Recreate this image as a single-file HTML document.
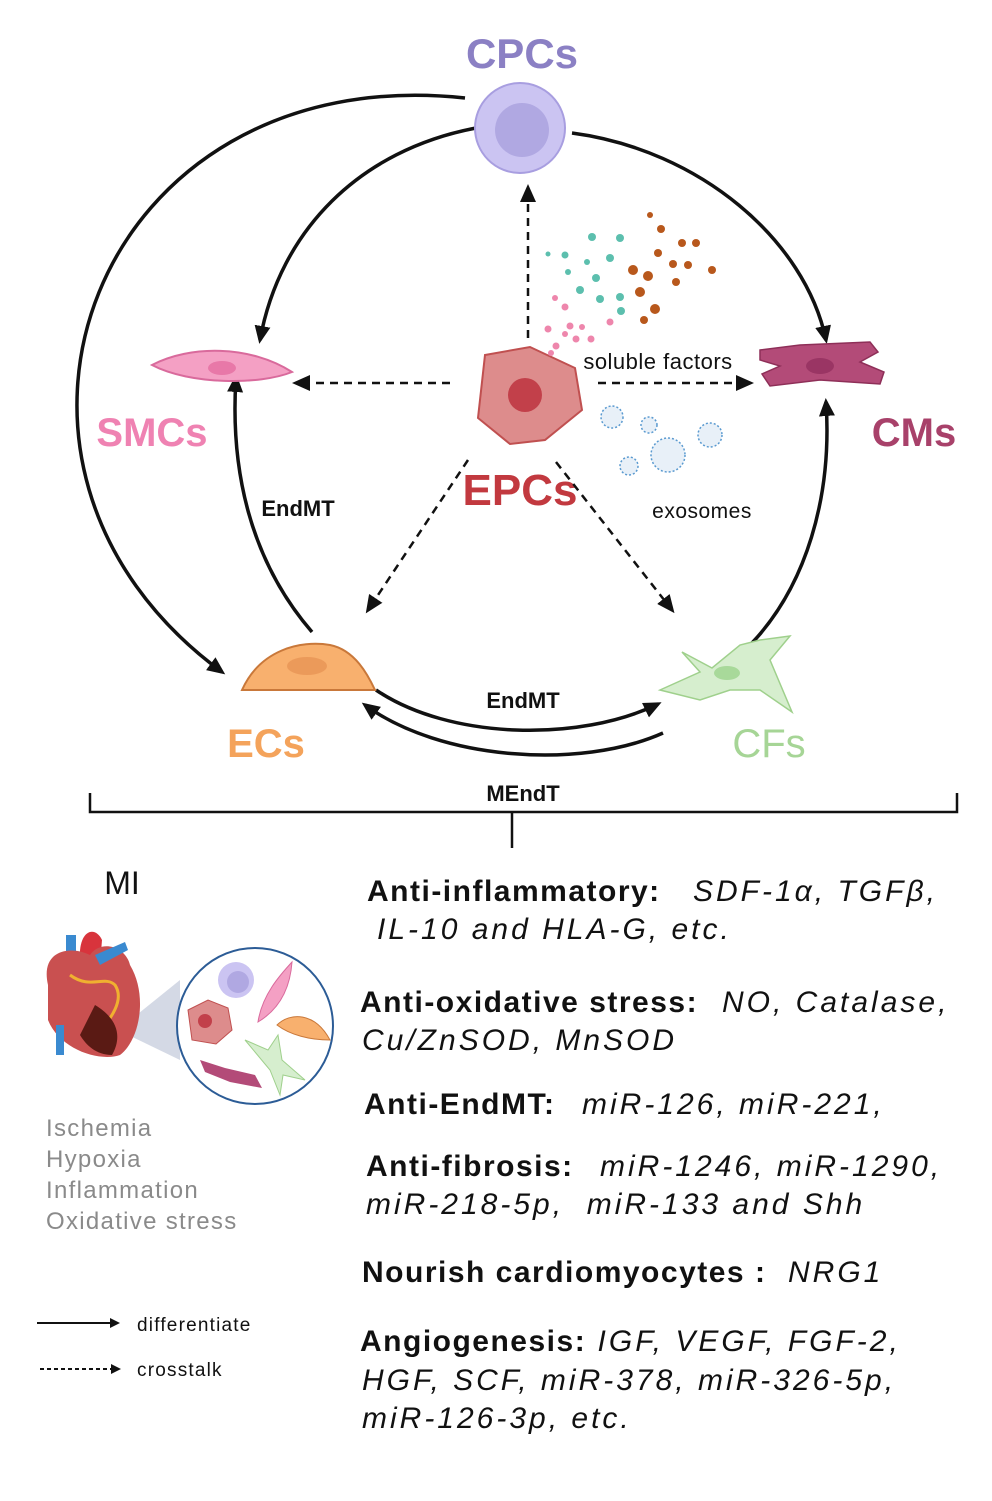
<!DOCTYPE html>
<html><head><meta charset="utf-8"><style>
html,body{margin:0;padding:0;background:#fff}
svg{display:block}
text{font-family:"Liberation Sans","DejaVu Sans",sans-serif}
.b{font-weight:bold;letter-spacing:1.5px}
.i{font-style:italic;font-weight:normal;letter-spacing:3px}
</style></head><body>
<svg width="992" height="1501" viewBox="0 0 992 1501" xmlns="http://www.w3.org/2000/svg">
<defs>
<marker id="ah" markerWidth="10" markerHeight="10" refX="7" refY="5" orient="auto" markerUnits="userSpaceOnUse" viewBox="0 0 10 10"><path d="M0,0 L10,5 L0,10 z" fill="#111"/></marker>
<marker id="ahB" markerWidth="20" markerHeight="20" refX="14" refY="10" orient="auto" markerUnits="userSpaceOnUse" viewBox="0 0 20 20"><path d="M0,2 L18,10 L0,18 z" fill="#111"/></marker>
</defs>

<text x="522" y="68" text-anchor="middle" font-weight="bold" font-size="42" fill="#8b80c4">CPCs</text>
<text x="152" y="446" text-anchor="middle" font-weight="bold" font-size="40" fill="#ef82b2">SMCs</text>
<text x="914" y="446" text-anchor="middle" font-weight="bold" font-size="40" fill="#a8416a">CMs</text>
<text x="520" y="505" text-anchor="middle" font-weight="bold" font-size="44" fill="#c2393f">EPCs</text>
<text x="266" y="757" text-anchor="middle" font-size="40" fill="#f4a35b" font-weight="bold">ECs</text>
<text x="769" y="757" text-anchor="middle" font-size="40" fill="#a6d596">CFs</text>

<g fill="none" stroke="#111" stroke-width="3.5">
<path d="M465,98 C 95,58 -60,465 222,672" marker-end="url(#ahB)"/>
<path d="M476,128 C 360,150 280,230 260,340" marker-end="url(#ahB)"/>
<path d="M572,133 C 700,150 805,240 826,340" marker-end="url(#ahB)"/>
<path d="M740,655 C 810,590 832,490 826,402" marker-end="url(#ahB)"/>
<path d="M312,632 C 250,560 230,470 236,378" marker-end="url(#ahB)"/>
<path d="M376,690 C 450,740 580,742 658,704" marker-end="url(#ahB)"/>
<path d="M663,733 C 580,770 440,760 365,705" marker-end="url(#ahB)"/>
</g>
<g fill="none" stroke="#111" stroke-width="2.5" stroke-dasharray="8,6">
<path d="M528,338 L528,188" marker-end="url(#ahB)"/>
<path d="M450,383 L296,383" marker-end="url(#ahB)"/>
<path d="M598,383 L750,383" marker-end="url(#ahB)"/>
<path d="M468,460 L368,610" marker-end="url(#ahB)"/>
<path d="M556,462 L672,610" marker-end="url(#ahB)"/>
</g>

<circle cx="520" cy="128" r="45" fill="#cbc4f2" stroke="#a89ee0" stroke-width="2"/>
<circle cx="522" cy="130" r="27" fill="#b0a8e2"/>

<path d="M152,365 C 190,345 250,345 292,372 C 260,385 190,385 152,365 z" fill="#f4a0c4" stroke="#d96a9c" stroke-width="2"/>
<ellipse cx="222" cy="368" rx="14" ry="7" fill="#e878a8"/>

<path d="M760,350 L800,345 L870,342 L878,352 L860,362 L884,372 L880,384 L820,380 L770,386 L762,374 L780,366 L760,360 z" fill="#b34b78" stroke="#8e2f58" stroke-width="1.5"/>
<ellipse cx="820" cy="366" rx="14" ry="8" fill="#9a3564"/>

<path d="M485,355 L530,347 L575,368 L582,410 L545,440 L510,444 L478,418 z" fill="#dd8c8c" stroke="#c05050" stroke-width="2"/>
<circle cx="525" cy="395" r="17" fill="#c2404a"/>

<g fill="#5cbfae">
<circle cx="592" cy="237" r="4"/><circle cx="620" cy="238" r="4"/><circle cx="565" cy="255" r="3.5"/><circle cx="587" cy="262" r="3"/><circle cx="610" cy="258" r="4"/><circle cx="596" cy="278" r="4"/><circle cx="580" cy="290" r="4"/><circle cx="600" cy="299" r="4"/><circle cx="620" cy="297" r="4"/><circle cx="621" cy="311" r="4"/><circle cx="548" cy="254" r="2.5"/><circle cx="568" cy="272" r="3"/>
</g>
<g fill="#b8581c">
<circle cx="650" cy="215" r="3"/><circle cx="661" cy="229" r="4"/><circle cx="682" cy="243" r="4"/><circle cx="696" cy="243" r="4"/><circle cx="658" cy="253" r="4"/><circle cx="673" cy="264" r="4"/><circle cx="688" cy="265" r="4"/><circle cx="633" cy="270" r="5"/><circle cx="648" cy="276" r="5"/><circle cx="712" cy="270" r="4"/><circle cx="676" cy="282" r="4"/><circle cx="640" cy="292" r="5"/><circle cx="655" cy="309" r="5"/><circle cx="644" cy="320" r="4"/>
</g>
<g fill="#ee86ac">
<circle cx="555" cy="298" r="3"/><circle cx="565" cy="307" r="3.5"/><circle cx="548" cy="329" r="3.5"/><circle cx="570" cy="326" r="3.5"/><circle cx="582" cy="327" r="3"/><circle cx="565" cy="334" r="3"/><circle cx="576" cy="339" r="3.5"/><circle cx="591" cy="339" r="3.5"/><circle cx="556" cy="346" r="3.5"/><circle cx="610" cy="322" r="3.5"/><circle cx="551" cy="353" r="3"/>
</g>
<g fill="#e8f0f8" stroke="#5a9ad0" stroke-width="1.5">
<circle cx="612" cy="417" r="11" stroke-dasharray="2,2"/><circle cx="649" cy="425" r="8" stroke-dasharray="2,2"/><circle cx="710" cy="435" r="12" stroke-dasharray="2,2"/><circle cx="668" cy="455" r="17" stroke-dasharray="2,2"/><circle cx="629" cy="466" r="9" stroke-dasharray="2,2"/>
</g>

<text x="658" y="369" text-anchor="middle" font-size="22" fill="#111" letter-spacing="0.5">soluble factors</text>
<text x="702" y="518" text-anchor="middle" font-size="21" fill="#111" letter-spacing="0.5">exosomes</text>
<text x="298" y="516" text-anchor="middle" font-weight="bold" font-size="22" fill="#111">EndMT</text>
<text x="523" y="708" text-anchor="middle" font-weight="bold" font-size="22" fill="#111">EndMT</text>
<text x="523" y="801" text-anchor="middle" font-weight="bold" font-size="22" fill="#111">MEndT</text>

<path d="M242,690 C 260,650 300,640 330,645 C 355,650 368,675 375,690 z" fill="#f8b06e" stroke="#c9783a" stroke-width="2"/>
<ellipse cx="307" cy="666" rx="20" ry="9" fill="#eb9a5a"/>
<path d="M660,690 L700,672 L682,652 L712,668 L740,645 L760,640 L790,636 L770,660 L792,712 L760,690 L730,690 L700,700 z" fill="#d6eece" stroke="#9fd08c" stroke-width="1.5"/>
<ellipse cx="727" cy="673" rx="13" ry="7" fill="#a8d99a"/>

<g stroke="#111" stroke-width="2.5" fill="none">
<path d="M90,793 L90,812 L957,812 L957,793"/>
<path d="M512,812 L512,848"/>
</g>

<text x="122" y="894" text-anchor="middle" font-size="32" fill="#111">MI</text>
<path d="M118,1030 L180,980 L180,1060 z" fill="#c9d0de" opacity="0.8"/>
<path d="M66,935 L66,985 L76,985 L76,935 z" fill="#3a8ad0"/>
<path d="M80,960 C 78,930 95,925 102,940 L100,965 z" fill="#d8343c"/>
<path d="M48,985 C 40,950 70,945 90,955 C 100,940 125,945 130,965 C 148,995 140,1040 120,1055 C 100,1062 60,1050 48,1020 z" fill="#c95050"/>
<path d="M70,975 C 90,990 105,975 115,985 C 125,1000 110,1020 100,1030" fill="none" stroke="#f0b030" stroke-width="3"/>
<path d="M95,1005 C 112,1015 125,1032 112,1055 C 96,1055 86,1045 80,1035 z" fill="#5a1a14"/>
<rect x="56" y="1025" width="8" height="30" fill="#3a8ad0"/>
<path d="M95,955 L125,942 L128,950 L100,965 z" fill="#3a8ad0"/>
<circle cx="255" cy="1026" r="78" fill="#fff" stroke="#2c5c96" stroke-width="2"/>
<circle cx="236" cy="980" r="18" fill="#cbc4f2"/><circle cx="238" cy="982" r="11" fill="#b0a8e2"/>
<path d="M258,1022 C 262,995 280,975 292,962 C 290,990 278,1010 258,1022 z" fill="#f4a0c4" stroke="#d96a9c"/>
<path d="M188,1010 L208,1000 L228,1008 L232,1030 L216,1044 L192,1040 z" fill="#dd8c8c" stroke="#c05050"/>
<circle cx="205" cy="1021" r="7" fill="#c2404a"/>
<path d="M277,1025 C 290,1012 315,1012 330,1040 C 310,1040 290,1035 277,1025 z" fill="#f8b06e" stroke="#c9783a"/>
<path d="M200,1060 L225,1068 L255,1075 L262,1088 L230,1082 L205,1072 z" fill="#b34b78"/>
<path d="M245,1040 L268,1050 L278,1035 L282,1060 L305,1080 L283,1075 L280,1095 L270,1070 z" fill="#d6eece" stroke="#9fd08c"/>

<g font-size="24" fill="#8a8a8a" letter-spacing="1.3">
<text x="46" y="1136">Ischemia</text>
<text x="46" y="1167">Hypoxia</text>
<text x="46" y="1198">Inflammation</text>
<text x="46" y="1229">Oxidative stress</text>
</g>

<path d="M37,1323 L117,1323" stroke="#111" stroke-width="2" marker-end="url(#ah)"/>
<path d="M40,1369 L118,1369" stroke="#111" stroke-width="2" stroke-dasharray="4,3" marker-end="url(#ah)"/>
<text x="137" y="1331" font-size="19" fill="#111" letter-spacing="1.2">differentiate</text>
<text x="137" y="1376" font-size="19" fill="#111" letter-spacing="1.2">crosstalk</text>

<g font-size="30" fill="#111">
<text x="367" y="901"><tspan class="b">Anti-inflammatory:</tspan><tspan class="i" x="693">SDF-1α, TGFβ,</tspan></text>
<text x="377" y="939" class="i">IL-10 and HLA-G, etc.</text>
<text x="360" y="1012"><tspan class="b">Anti-oxidative stress:</tspan><tspan class="i" x="722">NO, Catalase,</tspan></text>
<text x="362" y="1050" class="i">Cu/ZnSOD, MnSOD</text>
<text x="364" y="1114"><tspan class="b">Anti-EndMT:</tspan><tspan class="i" x="582">miR-126, miR-221,</tspan></text>
<text x="366" y="1176"><tspan class="b">Anti-fibrosis:</tspan><tspan class="i" x="600">miR-1246, miR-1290,</tspan></text>
<text x="366" y="1214" class="i">miR-218-5p,&#160;&#160;miR-133 and Shh</text>
<text x="362" y="1282"><tspan class="b">Nourish cardiomyocytes :</tspan><tspan class="i" x="788">NRG1</tspan></text>
<text x="360" y="1351"><tspan class="b">Angiogenesis:</tspan><tspan class="i"> IGF, VEGF, FGF-2,</tspan></text>
<text x="362" y="1390" class="i">HGF, SCF, miR-378, miR-326-5p,</text>
<text x="362" y="1428" class="i">miR-126-3p, etc.</text>
</g>
</svg>
</body></html>
